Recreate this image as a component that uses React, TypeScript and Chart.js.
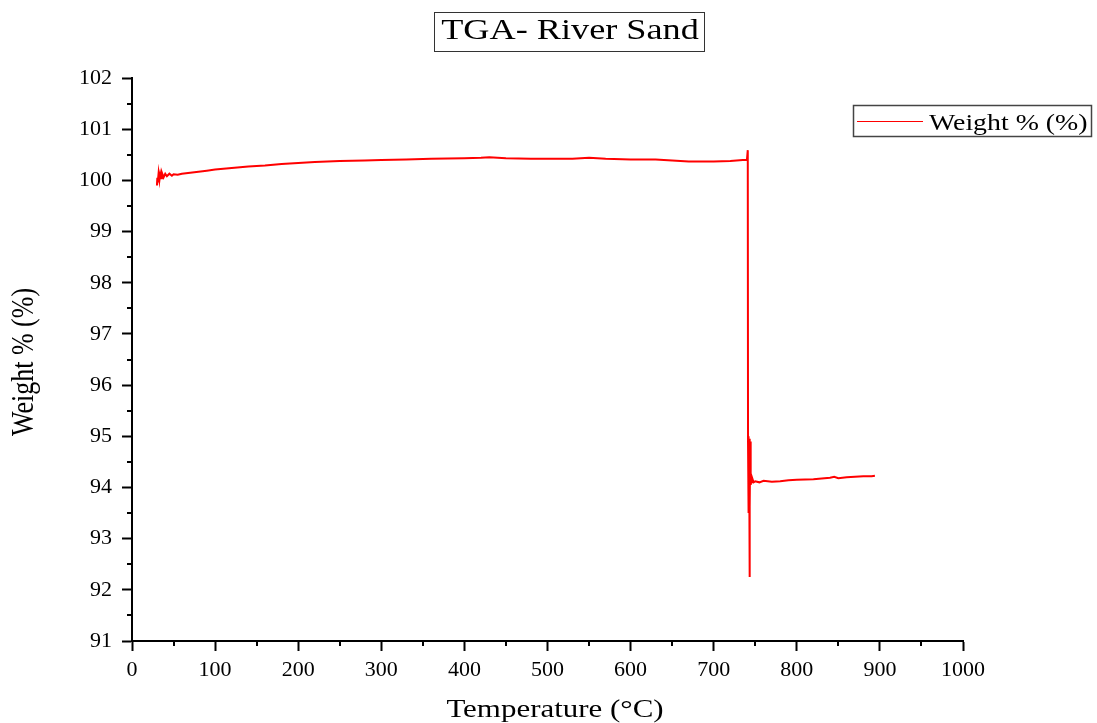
import { useEffect, useRef } from 'react';
import { Chart, registerables } from 'chart.js';

Chart.register(...registerables);

const CHART_TITLE = 'TGA- River Sand';
const SERIES_LABEL = 'Weight % (%)';
const X_TITLE = 'Temperature (°C)';
const Y_TITLE = 'Weight % (%)';

// Thermogravimetric trace: temperature (°C) and remaining weight (%)
const temperatureC = [
  30, 30.5, 31, 32, 33, 34, 35, 36, 38, 40, 42, 45, 48, 50, 55, 60, 70, 80, 90, 100,
  120, 140, 160, 180, 200, 220, 250, 280, 300, 330, 360, 400, 420, 430, 450, 480, 500,
  530, 550, 570, 600, 630, 650, 670, 690, 700, 720, 735, 740, 741, 741.3, 741.6, 742,
  742.3, 742.6, 743, 743.3, 743.6, 744, 744.5, 745, 746, 748, 750, 755, 760, 770, 780,
  790, 800, 820, 840, 845, 850, 860, 870, 880, 890, 894,
];
const weightPct = [
  99.9, 100.05, 99.96, 100.14, 100.0, 100.12, 100.04, 100.15, 100.06, 100.13, 100.08, 100.13, 100.09, 100.12, 100.11, 100.13, 100.15, 100.17, 100.19, 100.21,
  100.24, 100.27, 100.29, 100.32, 100.34, 100.36, 100.38, 100.39, 100.4, 100.41, 100.42, 100.43, 100.44, 100.45, 100.43, 100.42, 100.42,
  100.42, 100.44, 100.42, 100.41, 100.41, 100.39, 100.37, 100.37, 100.37, 100.38, 100.4, 100.4, 100.59, 94.9, 93.5, 95.0,
  93.8, 94.95, 92.25, 94.8, 93.6, 94.9, 94.05, 94.1, 94.2, 94.1, 94.12, 94.1, 94.13, 94.11, 94.12,
  94.14, 94.15, 94.16, 94.19, 94.21, 94.18, 94.2, 94.21, 94.22, 94.22, 94.23,
];

const X_MIN = 0;
const X_MAX = 1000;
const X_STEP = 100;
const Y_MIN = 91;
const Y_MAX = 102;
const Y_STEP = 1;

const SERIF = "'Liberation Serif', 'Times New Roman', serif";

function stretchedText(
  ctx: CanvasRenderingContext2D,
  text: string,
  x: number,
  y: number,
  size: number,
  sx: number,
  align: CanvasTextAlign,
  rotate = false,
) {
  ctx.save();
  ctx.font = `${size}px ${SERIF}`;
  ctx.fillStyle = '#000';
  ctx.textAlign = align;
  ctx.textBaseline = 'alphabetic';
  ctx.translate(x, y);
  if (rotate) {
    ctx.rotate(-Math.PI / 2);
    ctx.scale(1, sx);
  } else {
    ctx.scale(sx, 1);
  }
  ctx.fillText(text, 0, 0);
  ctx.restore();
}

const decorations = {
  id: 'tgaDecorations',
  afterDraw(chart: Chart) {
    const { ctx, chartArea, scales } = chart;
    const xs = scales.x;
    const ys = scales.y;

    // minor ticks halfway between the labelled ones
    ctx.save();
    ctx.strokeStyle = '#000';
    ctx.lineWidth = 2;
    ctx.beginPath();
    for (let v = X_MIN + X_STEP / 2; v < X_MAX; v += X_STEP) {
      const px = Math.round(xs.getPixelForValue(v));
      ctx.moveTo(px, chartArea.bottom);
      ctx.lineTo(px, chartArea.bottom + 5);
    }
    for (let v = Y_MIN + Y_STEP / 2; v < Y_MAX; v += Y_STEP) {
      const py = Math.round(ys.getPixelForValue(v));
      ctx.moveTo(chartArea.left, py);
      ctx.lineTo(chartArea.left - 5, py);
    }
    ctx.stroke();
    ctx.restore();

    // boxed title
    ctx.save();
    ctx.strokeStyle = '#333';
    ctx.lineWidth = 1;
    ctx.strokeRect(434.5, 12.5, 270, 39);
    ctx.restore();
    stretchedText(ctx, CHART_TITLE, 570, 39, 29, 1.25, 'center');

    // legend
    ctx.save();
    ctx.strokeStyle = '#444';
    ctx.lineWidth = 1.5;
    ctx.strokeRect(853.5, 105.5, 238, 31);
    ctx.strokeStyle = '#ff0000';
    ctx.lineWidth = 1;
    ctx.beginPath();
    ctx.moveTo(857, 121.5);
    ctx.lineTo(923, 121.5);
    ctx.stroke();
    ctx.restore();
    stretchedText(ctx, SERIES_LABEL, 929, 130, 23, 1.21, 'left');

    // axis titles
    stretchedText(ctx, X_TITLE, 555, 717, 26, 1.19, 'center');
    stretchedText(ctx, Y_TITLE, 33, 362, 26, 1.2, 'center', true);
  },
};

export default function App() {
  const canvasRef = useRef<HTMLCanvasElement | null>(null);

  useEffect(() => {
    document.body.style.margin = '0';
    const canvas = canvasRef.current;
    if (!canvas) return;

    const tickFont = { family: SERIF, size: 22 };

    const chart = new Chart(canvas, {
      type: 'line',
      data: {
        datasets: [
          {
            label: SERIES_LABEL,
            data: temperatureC.map((t, i) => ({ x: t, y: weightPct[i] })),
            borderColor: '#ff0000',
            backgroundColor: '#ff0000',
            borderWidth: 2,
            pointRadius: 0,
            tension: 0,
            fill: false,
          },
        ],
      },
      options: {
        animation: false,
        responsive: false,
        devicePixelRatio: 1,
        layout: { padding: { left: 0, right: 134, top: 78, bottom: 0 } },
        plugins: {
          legend: { display: false },
          title: { display: false },
          tooltip: { enabled: false },
        },
        scales: {
          x: {
            type: 'linear',
            min: X_MIN,
            max: X_MAX,
            position: 'bottom',
            afterFit: (s: any) => {
              s.height = 82;
            },
            ticks: {
              stepSize: X_STEP,
              font: tickFont,
              color: '#000',
              padding: 6,
              maxRotation: 0,
              callback: (v: any) => String(v),
            },
            grid: {
              drawOnChartArea: false,
              drawTicks: true,
              tickLength: 10,
              tickWidth: 2,
              tickColor: '#000',
            },
            border: { color: '#000', width: 2 },
          },
          y: {
            type: 'linear',
            min: Y_MIN,
            max: Y_MAX,
            afterFit: (s: any) => {
              s.width = 132;
            },
            ticks: {
              stepSize: Y_STEP,
              font: tickFont,
              color: '#000',
              padding: 10,
              callback: (v: any) => String(v),
            },
            grid: {
              drawOnChartArea: false,
              drawTicks: true,
              tickLength: 10,
              tickWidth: 2,
              tickColor: '#000',
            },
            border: { color: '#000', width: 2 },
          },
        },
      },
      plugins: [decorations],
    });

    return () => chart.destroy();
  }, []);

  return (
    <div style={{ width: 1097, height: 723, background: '#fff' }}>
      <canvas ref={canvasRef} width={1097} height={723} style={{ display: 'block' }} />
    </div>
  );
}
